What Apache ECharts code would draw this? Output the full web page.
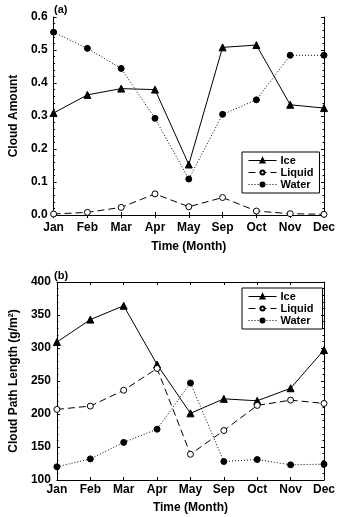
<!DOCTYPE html>
<html>
<head>
<meta charset="utf-8">
<script src="https://cdn.jsdelivr.net/npm/echarts@6/dist/echarts.min.js"></script>
<style>
  html, body { margin: 0; padding: 0; background: #fff; }
  #chart { width: 338px; height: 517px; }
</style>
</head>
<body>
<div id="chart"></div>
<script>
const months = ["Jan", "Feb", "Mar", "Apr", "May", "Sep", "Oct", "Nov", "Dec"];

// (a) cloud amount
const iceAmount = [0.309, 0.364, 0.383, 0.380, 0.153, 0.508, 0.515, 0.334, 0.324];
const liquidAmount = [0.003, 0.008, 0.023, 0.064, 0.025, 0.053, 0.012, 0.004, 0.002];
const waterAmount = [0.554, 0.505, 0.444, 0.293, 0.109, 0.305, 0.349, 0.484, 0.484];

// (b) cloud path length
const icePath = [309, 343, 364, 275, 201, 223, 220, 239, 297];
const liquidPath = [207, 212, 236, 269, 139, 175, 213, 221, 216];
const waterPath = [120, 132, 157, 177, 247, 128, 131, 123, 124];

const font = "Liberation Sans, Arial, sans-serif";
const black = "#000";

const myChart = echarts.init(document.getElementById("chart"));

const catAxis = (grid, pos, labels, margin, gap) => ({
  type: "category",
  gridIndex: grid,
  position: pos,
  data: months,
  boundaryGap: false,
  axisLine: { show: true, lineStyle: { color: black, width: 1 } },
  axisTick: { show: true, inside: true, length: 3, lineStyle: { color: black } },
  axisLabel: {
    show: labels,
    color: black,
    fontFamily: font,
    fontWeight: "bold",
    fontSize: 12,
    margin: margin,
  },
  name: labels ? "Time (Month)" : "",
  nameLocation: "middle",
  nameGap: gap,
  nameTextStyle: { color: black, fontFamily: font, fontWeight: "bold", fontSize: 12 },
  splitLine: { show: false },
});

const valAxis = (grid, pos, min, max, step, labels, name, dec, gap) => ({
  type: "value",
  gridIndex: grid,
  position: pos,
  min: min,
  max: max,
  interval: step,
  axisLine: { show: true, lineStyle: { color: black, width: 1 } },
  axisTick: { show: true, inside: true, length: 3, lineStyle: { color: black } },
  minorTick: { show: true, splitNumber: 5, length: 1.5, lineStyle: { color: black } },
  axisLabel: {
    show: labels,
    color: black,
    fontFamily: font,
    fontWeight: "bold",
    fontSize: 12,
    margin: 6,
    formatter: (v) => v.toFixed(dec),
  },
  name: labels ? name : "",
  nameLocation: "middle",
  nameGap: gap,
  nameTextStyle: { color: black, fontFamily: font, fontWeight: "bold", fontSize: 12 },
  splitLine: { show: false },
});

const mkSeries = (name, data, axis, style) => ({
  name: name,
  type: "line",
  data: data,
  xAxisIndex: axis,
  yAxisIndex: axis,
  symbol: style.symbol,
  symbolSize: style.size,
  itemStyle: { color: style.fill, borderColor: black, borderWidth: 1 },
  lineStyle: { color: black, width: 1, type: style.dash },
  emphasis: { disabled: true },
});

const iceStyle = { symbol: "triangle", size: 7, fill: black, dash: "solid" };
const liqStyle = { symbol: "circle", size: 6, fill: "#fff", dash: [7, 4] };
const watStyle = { symbol: "circle", size: 6, fill: black, dash: [1, 2] };

const legendBase = {
  orient: "vertical",
  left: 242,
  itemWidth: 28,
  itemHeight: 5,
  itemGap: 1,
  padding: [3, 6, 3, 6],
  borderColor: black,
  borderWidth: 1,
  lineStyle: { width: 1 },
  textStyle: { color: black, fontFamily: font, fontWeight: "bold", fontSize: 11, lineHeight: 11, padding: [0, 0, 0, -1] },
  selectedMode: false,
};

const option = {
  animation: false,
  backgroundColor: "#fff",
  grid: [
    { left: 52, right: 9, top: 17, height: 198, show: false },
    { left: 52, right: 10, top: 282, height: 198, show: false },
  ],
  xAxis: [
    catAxis(0, "bottom", true, 7, 26),
    catAxis(1, "bottom", true, 4, 22),
    catAxis(0, "top", false, 0, 0),
    catAxis(1, "top", false, 0, 0),
  ],
  yAxis: [
    valAxis(0, "left", 0, 0.6, 0.1, true, "Cloud Amount", 1, 29),
    valAxis(1, "left", 100, 400, 50, true, "Cloud Path Length (g/m²)", 0, 34),
    valAxis(0, "right", 0, 0.6, 0.1, false, "", 1, 0),
    valAxis(1, "right", 100, 400, 50, false, "", 0, 0),
  ],
  legend: [
    Object.assign({}, legendBase, { top: 152, data: ["Ice", "Liquid", "Water"] }),
    Object.assign({}, legendBase, { top: 288, data: ["Ice ", "Liquid ", "Water "] }),
  ],
  graphic: [
    { type: "text", left: 54, top: 4, style: { text: "(a)", fill: black, font: "bold 11px " + font } },
    { type: "text", left: 54, top: 270, style: { text: "(b)", fill: black, font: "bold 11px " + font } },
  ],
  series: [
    mkSeries("Ice", iceAmount, 0, iceStyle),
    mkSeries("Liquid", liquidAmount, 0, liqStyle),
    mkSeries("Water", waterAmount, 0, watStyle),
    mkSeries("Ice ", icePath, 1, iceStyle),
    mkSeries("Liquid ", liquidPath, 1, liqStyle),
    mkSeries("Water ", waterPath, 1, watStyle),
  ],
};

option && myChart.setOption(option);
</script>
</body>
</html>
